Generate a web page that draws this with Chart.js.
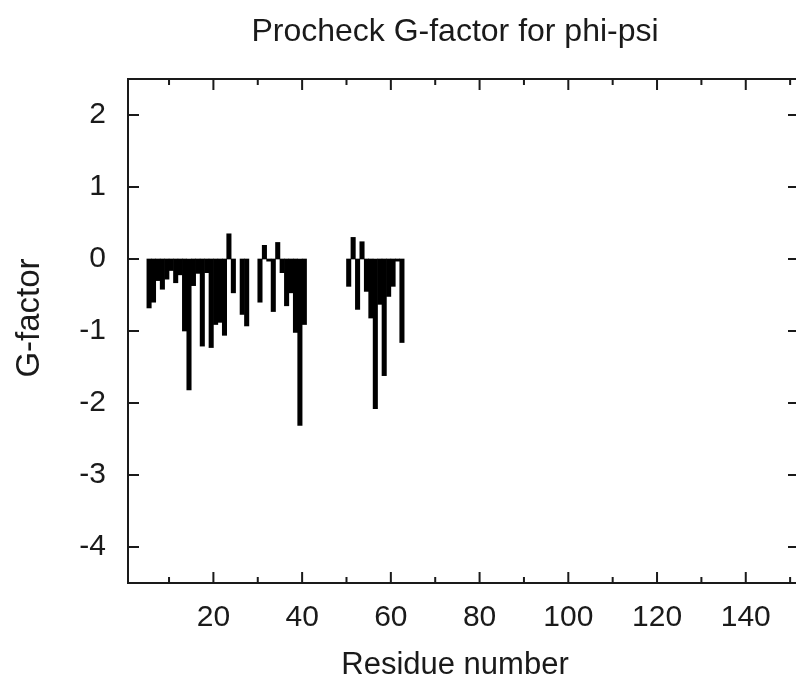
<!DOCTYPE html>
<html>
<head>
<meta charset="utf-8">
<script src="https://cdn.jsdelivr.net/npm/chart.js@4.4.1/dist/chart.umd.min.js"></script>
<style>
  html, body { margin: 0; padding: 0; background: #fff; overflow: hidden; }
  #wrap { position: relative; width: 799px; height: 690px; }
</style>
</head>
<body>
<div id="wrap"><canvas id="gfactor" width="799" height="690"></canvas></div>
<script>
// residue numbers and their G-factor (phi-psi)
const residues = [
  5, 6, 7, 8, 9, 10, 11, 12, 13, 14, 15, 16, 17, 18, 19, 20, 21, 22, 23, 24,
  26, 27, 30, 31, 32, 33, 34, 35, 36, 37, 38, 39, 40,
  50, 51, 52, 53, 54, 55, 56, 57, 58, 59, 60, 61, 62
];
const gFactors = [
  -0.68, -0.60, -0.30, -0.42, -0.28, -0.16, -0.33, -0.22, -1.00, -1.82,
  -0.37, -0.20, -1.21, -0.19, -1.23, -0.91, -0.88, -1.06, 0.35, -0.47,
  -0.77, -0.93, -0.60, 0.19, -0.03, -0.73, 0.23, -0.19, -0.65, -0.47,
  -1.02, -2.31, -0.91,
  -0.38, 0.30, -0.70, 0.24, -0.45, -0.82, -2.08, -0.63, -1.62, -0.52,
  -0.38, -0.03, -1.16
];
const xTicks = [20, 40, 60, 80, 100, 120, 140];
const xMinorTicks = [10, 30, 50, 70, 90, 110, 130, 150];
const yTicks = [-4, -3, -2, -1, 0, 1, 2];

const FONT = "Liberation Sans, Arial, Helvetica, sans-serif";
const INK = "#1a1a1a";
const TICK_SIZE = 30;

// gnuplot-style frame: border box with inward ticks on every side
const frameTicks = {
  id: "frameTicks",
  afterDatasetsDraw(chart) {
    const { ctx, chartArea: a, scales } = chart;
    ctx.save();
    ctx.strokeStyle = INK;
    ctx.lineWidth = 2;
    ctx.strokeRect(a.left, a.top, a.right - a.left, a.bottom - a.top);
    ctx.beginPath();
    const tickX = (v, len) => {
      const px = scales.x.getPixelForValue(v);
      ctx.moveTo(px, a.bottom); ctx.lineTo(px, a.bottom - len);
      ctx.moveTo(px, a.top); ctx.lineTo(px, a.top + len);
    };
    xTicks.forEach((v) => tickX(v, 11));
    xMinorTicks.forEach((v) => tickX(v, 6));
    yTicks.forEach((v) => {
      const py = scales.y.getPixelForValue(v);
      ctx.moveTo(a.left, py); ctx.lineTo(a.left + 11, py);
      ctx.moveTo(a.right, py); ctx.lineTo(a.right - 11, py);
    });
    ctx.stroke();
    ctx.restore();
  },
};

// titles placed like the original gnuplot output
const plotTitles = {
  id: "plotTitles",
  afterDraw(chart) {
    const { ctx } = chart;
    ctx.save();
    ctx.fillStyle = INK;
    ctx.textAlign = "center";
    ctx.textBaseline = "middle";
    ctx.font = "32px " + FONT;
    ctx.fillText("Procheck G-factor for phi-psi", 455, 32);
    ctx.font = "31px " + FONT;
    ctx.fillText("Residue number", 455, 665);
    ctx.translate(30, 318);
    ctx.rotate(-Math.PI / 2);
    ctx.font = "33px " + FONT;
    ctx.fillText("G-factor", 0, 0);
    ctx.restore();
  },
};

const ctx = document.getElementById("gfactor").getContext("2d");
new Chart(ctx, {
  type: "bar",
  data: {
    datasets: [
      {
        label: "G-factor",
        // each residue fills its own one-unit bin
        data: residues.map((r, i) => ({ x: r + 0.5, y: gFactors[i] })),
        backgroundColor: "#000",
        borderWidth: 0,
        barThickness: 4.4,
      },
    ],
  },
  options: {
    responsive: false,
    animation: false,
    layout: { padding: { top: 79, left: 0, right: 0, bottom: 0 } },
    plugins: {
      legend: { display: false },
      title: { display: false },
      tooltip: { enabled: false },
    },
    scales: {
      x: {
        type: "linear",
        offset: false,
        min: 0.75,
        max: 152,
        grid: { display: false, drawTicks: false, offset: false },
        border: { display: false },
        afterBuildTicks: (scale) => {
          scale.ticks = xTicks.map((v) => ({ value: v }));
        },
        afterFit: (scale) => {
          scale.height = 107;
        },
        ticks: {
          color: INK,
          font: { family: FONT, size: TICK_SIZE },
          padding: 17,
          maxRotation: 0,
          autoSkip: false,
        },
      },
      y: {
        min: -4.5,
        max: 2.5,
        grid: { display: false, drawTicks: false },
        border: { display: false },
        afterBuildTicks: (scale) => {
          scale.ticks = yTicks.map((v) => ({ value: v }));
        },
        afterFit: (scale) => {
          scale.width = 128;
        },
        ticks: {
          color: INK,
          font: { family: FONT, size: TICK_SIZE },
          padding: 22,
        },
      },
    },
  },
  plugins: [frameTicks, plotTitles],
});
</script>
</body>
</html>
